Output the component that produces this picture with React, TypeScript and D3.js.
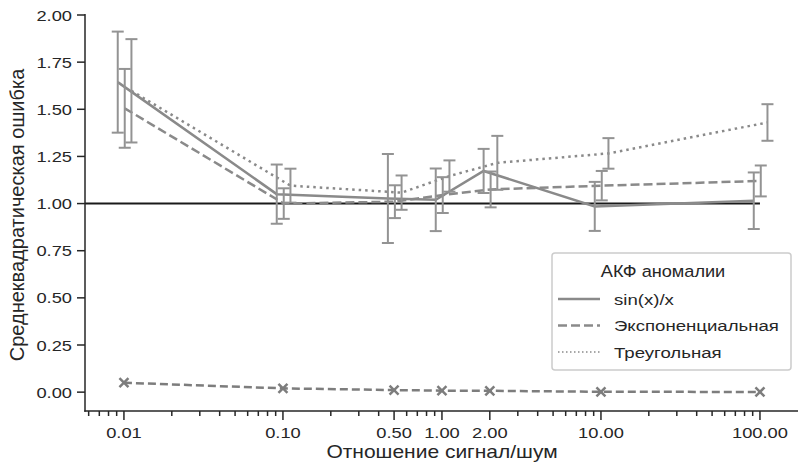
import React from "react";
import * as d3 from "d3";

// ---- data ----
const X_VALUES = [0.01, 0.1, 0.5, 1, 2, 10, 100];
const X_TICK_LABELS = ["0.01", "0.10", "0.50", "1.00", "2.00", "10.00", "100.00"];
const Y_TICKS = [0, 0.25, 0.5, 0.75, 1.0, 1.25, 1.5, 1.75, 2.0];

const SINC_MEAN = [1.644, 1.05, 1.027, 1.02, 1.173, 0.985, 1.015];
const SINC_ERR = [0.268, 0.157, 0.236, 0.166, 0.117, 0.13, 0.15];
const EXP_MEAN = [1.505, 1.0, 1.01, 1.045, 1.075, 1.095, 1.12];
const EXP_ERR = [0.209, 0.081, 0.087, 0.095, 0.095, 0.078, 0.082];
const TRI_MEAN = [1.598, 1.095, 1.058, 1.146, 1.216, 1.266, 1.43];
const TRI_ERR = [0.274, 0.09, 0.091, 0.083, 0.143, 0.081, 0.097];
const BASELINE = [0.05, 0.02, 0.011, 0.008, 0.007, 0.002, 0.001];

const SERIES_NAMES = ["sin(x)/x", "Экспоненциальная", "Треугольная"];
const LEGEND_TITLE = "АКФ аномалии";
const X_LABEL = "Отношение сигнал/шум";
const Y_LABEL = "Среднеквадратическая ошибка";
const REF_LEVEL = 1.0;

// ---- layout / style ----
const W = 798, H = 465;
const FONT = "'Liberation Sans', Arial, sans-serif";
const TEXT = "#262626";
const GRAY = "#8a8a8a";
const BAR_GRAY = "#939393";
const X_LEFT = 85, X_RIGHT = 799, Y_TOP = 15, Y_BOTTOM = 411;

const x = d3.scaleLog().domain([0.00569, 176]).range([X_LEFT, X_RIGHT]);
const y = d3.scaleLinear().domain([-0.1, 2.0]).range([Y_BOTTOM, Y_TOP]);

const seriesDefs = [
  { mean: SINC_MEAN, err: SINC_ERR, dodge: -6.2, dash: "none", width: 2.5 },
  { mean: EXP_MEAN, err: EXP_ERR, dodge: 0.8, dash: "9 4", width: 2.5 },
  { mean: TRI_MEAN, err: TRI_ERR, dodge: 7.5, dash: "2.5 4", width: 2.5 },
];

function minorTicks(): number[] {
  const out: number[] = [];
  const [d0, d1] = x.domain();
  for (let e = -3; e <= 3; e++) {
    for (let m = 2; m <= 9; m++) {
      const v = m * Math.pow(10, e);
      if (v >= d0 && v <= d1 && !X_VALUES.some((t) => Math.abs(t - v) / v < 1e-6)) out.push(v);
    }
  }
  return out;
}

export default function App() {
  const line = d3
    .line<[number, number]>()
    .x((d) => d[0])
    .y((d) => d[1]);

  const minors = minorTicks();

  return (
    <svg
      width={W}
      height={H}
      style={{ position: "absolute", left: 0, top: 0, background: "#fff" }}
      fontFamily={FONT}
    >
      <rect x={0} y={0} width={W} height={H} fill="#fff" />

      {/* reference line */}
      <line
        x1={X_LEFT}
        x2={x(100)}
        y1={y(REF_LEVEL)}
        y2={y(REF_LEVEL)}
        stroke="#1a1a1a"
        strokeWidth={2}
      />

      {/* series lines */}
      {seriesDefs.map((s, i) => (
        <path
          key={"l" + i}
          d={line(X_VALUES.map((v, j) => [x(v) + s.dodge, y(s.mean[j])]))!}
          fill="none"
          stroke={GRAY}
          strokeWidth={s.width}
          strokeDasharray={s.dash}
        />
      ))}

      {/* error bars */}
      {seriesDefs.map((s, i) => (
        <g key={"e" + i} stroke={BAR_GRAY} strokeWidth={2}>
          {X_VALUES.map((v, j) => {
            const cx = x(v) + s.dodge;
            const y1 = y(s.mean[j] + s.err[j]);
            const y2 = y(s.mean[j] - s.err[j]);
            return (
              <g key={j}>
                <line x1={cx} x2={cx} y1={y1} y2={y2} />
                <line x1={cx - 6} x2={cx + 6} y1={y1} y2={y1} />
                <line x1={cx - 6} x2={cx + 6} y1={y2} y2={y2} />
              </g>
            );
          })}
        </g>
      ))}

      {/* baseline series with x markers */}
      <path
        d={line(X_VALUES.map((v, j) => [x(v), y(BASELINE[j])]))!}
        fill="none"
        stroke="#7d7d7d"
        strokeWidth={2.5}
        strokeDasharray="8 4"
      />
      {X_VALUES.map((v, j) => {
        const cx = x(v), cy = y(BASELINE[j]);
        const r = 4.5;
        return (
          <g key={"m" + j} stroke="#7d7d7d" strokeWidth={2.5}>
            <line x1={cx - r} y1={cy - r} x2={cx + r} y2={cy + r} />
            <line x1={cx - r} y1={cy + r} x2={cx + r} y2={cy - r} />
          </g>
        );
      })}

      {/* axes */}
      <g stroke={TEXT} strokeWidth={1.5}>
        <line x1={X_LEFT} x2={X_LEFT} y1={Y_TOP - 1} y2={Y_BOTTOM + 0.75} />
        <line x1={X_LEFT - 0.75} x2={X_RIGHT} y1={Y_BOTTOM} y2={Y_BOTTOM} />
        {Y_TICKS.map((t) => (
          <line key={"yt" + t} x1={X_LEFT - 8} x2={X_LEFT} y1={y(t)} y2={y(t)} />
        ))}
        {X_VALUES.map((t) => (
          <line key={"xt" + t} x1={x(t)} x2={x(t)} y1={Y_BOTTOM} y2={Y_BOTTOM + 9} />
        ))}
        {minors.map((t) => (
          <line key={"xm" + t} x1={x(t)} x2={x(t)} y1={Y_BOTTOM} y2={Y_BOTTOM + 5} />
        ))}
      </g>

      {/* y tick labels */}
      {Y_TICKS.map((t) => (
        <text
          key={"yl" + t}
          transform={`translate(${X_LEFT - 13},${y(t) + 5.5}) scale(1.22,1)`}
          textAnchor="end"
          fontSize={15}
          fill={TEXT}
        >
          {t.toFixed(2)}
        </text>
      ))}

      {/* x tick labels */}
      {X_VALUES.map((t, i) => (
        <text
          key={"xl" + t}
          transform={`translate(${x(t)},${Y_BOTTOM + 27}) scale(1.22,1)`}
          textAnchor="middle"
          fontSize={15}
          fill={TEXT}
        >
          {X_TICK_LABELS[i]}
        </text>
      ))}

      {/* axis labels */}
      <text
        transform={`translate(${(X_LEFT + X_RIGHT) / 2},${458}) scale(1.2,1)`}
        textAnchor="middle"
        fontSize={17.5}
        fill={TEXT}
      >
        {X_LABEL}
      </text>
      <text
        transform={`translate(${24},${215}) rotate(-90)`}
        textAnchor="middle"
        fontSize={20}
        fill={TEXT}
      >
        {Y_LABEL}
      </text>

      {/* legend */}
      <g>
        <rect x={552} y={253} width={239} height={117} rx={3} fill="#fff" stroke="#cccccc" strokeWidth={1.5} />
        <text
          transform={`translate(${663},${277}) scale(1.1,1)`}
          textAnchor="middle"
          fontSize={16.5}
          fill={TEXT}
        >
          {LEGEND_TITLE}
        </text>
        {seriesDefs.map((s, i) => {
          const ry = 299 + i * 26.5;
          return (
            <g key={"lg" + i}>
              <line
                x1={558}
                x2={600}
                y1={ry}
                y2={ry}
                stroke={GRAY}
                strokeWidth={i === 2 ? 1.5 : 2.5}
                strokeDasharray={i === 2 ? "1.5 2.5" : s.dash}
              />
              <text
                transform={`translate(${614},${ry + 5.5}) scale(1.2,1)`}
                fontSize={15.5}
                fill={TEXT}
              >
                {SERIES_NAMES[i]}
              </text>
            </g>
          );
        })}
      </g>
    </svg>
  );
}
